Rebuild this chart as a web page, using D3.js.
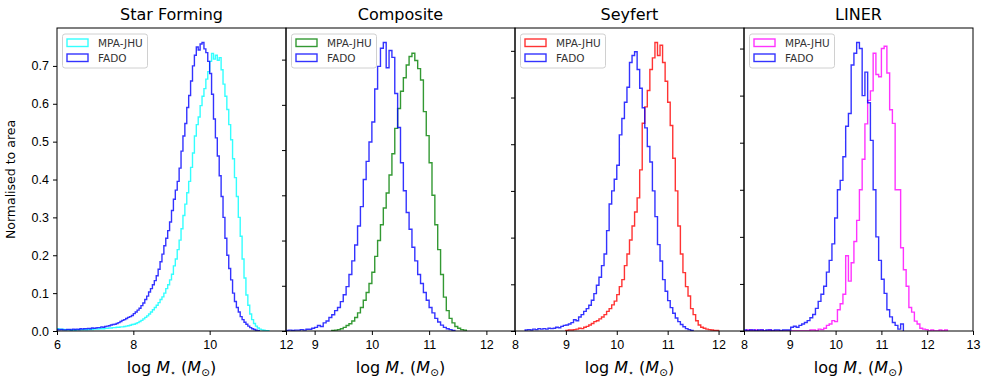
<!DOCTYPE html>
<html>
<head>
<meta charset="utf-8">
<script src="https://cdn.jsdelivr.net/npm/d3@7"></script>
<style>
  body { margin: 0; background: #fff; }
  svg { font-family: "DejaVu Sans", sans-serif; }
</style>
</head>
<body>
<div id="chart"></div>
<script>
// panel titles, legend names, axis ticks
var panelTitles = ["Star Forming", "Composite", "Seyfert", "LINER"];
var seriesNames = ["MPA-JHU", "FADO"];
var xDomains = [[6, 12], [8.5, 12.5], [8, 12.5], [8, 13]];
var xTickValues = [[6, 8, 10, 12], [9, 10, 11, 12], [8, 9, 10, 11, 12], [8, 9, 10, 11, 12, 13]];
var yTickValues = [0, 0.1, 0.2, 0.3, 0.4, 0.5, 0.6, 0.7];

// histogram bins: left edge of first bin, bin width per panel
var binWidths = [0.05, 0.05, 0.05, 0.06];
var mpaStarts = [6.0, 9.3, 9.0, 8.0];
var fadoStarts = [6.0, 8.5, 8.2, 8.0];

// Star Forming
var sfMpa = [
  0.006,0.005,0.005,0.004,0.003,0.003,0.003,0.002,0.003,0.002,0.003,0.003,0.003,0.003,0.004,0.003,0.004,0.004,0.004,0.005,
  0.005,0.005,0.006,0.006,0.006,0.007,0.007,0.008,0.008,0.009,0.009,0.010,0.010,0.011,0.011,0.012,0.013,0.014,0.015,0.017,
  0.018,0.020,0.022,0.025,0.028,0.032,0.036,0.040,0.045,0.050,0.056,0.062,0.068,0.075,0.083,0.090,0.100,0.112,0.122,0.135,
  0.150,0.172,0.190,0.215,0.240,0.270,0.305,0.335,0.365,0.395,0.432,0.470,0.515,0.545,0.565,0.595,0.620,0.640,0.665,0.685,
  0.712,0.733,0.718,0.728,0.715,0.722,0.690,0.652,0.620,0.585,0.545,0.505,0.455,0.405,0.355,0.300,0.250,0.190,0.140,0.095,
  0.068,0.045,0.030,0.020,0.013,0.008,0.005,0.003,0.002,0.001,0.001];
var sfFado = [
  0.004,0.003,0.004,0.003,0.003,0.004,0.004,0.003,0.005,0.004,0.005,0.004,0.006,0.005,0.006,0.006,0.007,0.006,0.008,0.007,
  0.008,0.009,0.009,0.011,0.010,0.012,0.013,0.014,0.016,0.017,0.018,0.020,0.022,0.025,0.028,0.030,0.033,0.036,0.038,0.041,
  0.046,0.050,0.055,0.060,0.067,0.074,0.083,0.092,0.103,0.112,0.122,0.133,0.146,0.163,0.183,0.203,0.225,0.245,0.265,0.288,
  0.318,0.348,0.372,0.395,0.430,0.475,0.515,0.548,0.590,0.622,0.660,0.700,0.728,0.750,0.742,0.758,0.762,0.745,0.735,0.712,
  0.680,0.625,0.560,0.510,0.462,0.410,0.355,0.300,0.245,0.200,0.165,0.135,0.100,0.078,0.062,0.050,0.038,0.030,0.023,0.018,
  0.013,0.009,0.006,0.004,0.002,0.001];

// Composite
var compMpa = [
  0.001,0.002,0.003,0.005,0.008,0.012,0.016,0.022,0.030,0.040,0.052,0.068,0.085,0.105,
  0.130,0.165,0.200,0.235,0.272,0.305,0.345,0.392,0.448,0.492,0.530,0.560,0.588,0.607,0.614,0.598,0.580,0.555,0.485,0.432,
  0.372,0.300,0.235,0.180,0.125,0.075,0.045,0.028,0.018,0.010,0.006,0.003,0.002];
var compFado = [
  0.001,0.002,0.001,0.002,0.002,0.003,0.002,0.004,0.004,0.006,
  0.008,0.012,0.010,0.018,0.022,0.030,0.036,0.045,0.052,0.065,0.080,0.098,0.125,0.155,0.190,0.232,0.275,0.335,0.375,0.418,
  0.462,0.535,0.585,0.625,0.638,0.582,0.620,0.605,0.525,0.450,0.372,0.310,0.262,0.225,0.185,0.155,0.125,0.105,0.085,0.068,
  0.052,0.040,0.028,0.020,0.013,0.008,0.005,0.003,0.001];

// Seyfert
var seyMpa = [
  0.001,0.002,0.002,0.003,0.004,0.006,0.005,0.008,0.010,0.013,0.016,0.020,0.022,0.026,0.030,0.035,0.042,0.048,0.056,0.064,
  0.078,0.095,0.110,0.140,0.165,0.195,0.225,0.255,0.285,0.345,0.445,0.480,0.515,0.560,0.585,0.618,0.590,0.612,0.575,0.535,
  0.490,0.440,0.370,0.300,0.225,0.165,0.125,0.095,0.075,0.048,0.035,0.022,0.013,0.008,0.006,0.004,0.003,0.002,0.001,0.001];
var seyFado = [
  0.002,0.003,0.002,0.004,0.003,0.005,0.004,0.005,0.004,0.006,0.005,0.006,0.008,0.007,0.010,0.012,
  0.013,0.015,0.018,0.024,0.022,0.030,0.035,0.042,0.048,0.055,0.066,0.080,0.098,0.115,0.140,0.165,0.215,0.272,0.300,0.325,
  0.355,0.420,0.455,0.490,0.522,0.575,0.590,0.598,0.560,0.520,0.478,0.435,0.395,0.362,0.300,0.245,0.185,0.150,0.110,0.085,
  0.065,0.050,0.038,0.028,0.020,0.014,0.009,0.005,0.003,0.001];

// LINER
var linerMpa = [
  0.000,0.002,0.002,0.000,0.002,0.000,0.002,0.000,0.000,0.002,0.000,0.000,0.000,0.000,0.000,0.000,0.000,0.000,0.000,0.000,
  0.000,0.000,0.000,0.000,0.002,0.002,0.000,0.004,0.003,0.006,0.012,0.015,0.022,0.020,0.045,0.058,0.078,0.160,0.106,0.145,
  0.190,0.235,0.300,0.365,0.440,0.490,0.510,0.590,0.545,0.540,0.600,0.605,0.548,0.470,0.441,0.300,0.300,0.177,0.130,0.095,
  0.050,0.040,0.021,0.015,0.006,0.004,0.003,0.000,0.002,0.000,0.000,0.002,0.000,0.002];
var linerFado = [
  0.002,0.000,0.002,0.002,0.000,0.002,0.002,0.000,0.002,0.002,0.000,0.002,0.002,0.000,0.002,0.002,0.002,0.008,0.010,0.008,
  0.012,0.015,0.018,0.022,0.028,0.035,0.048,0.063,0.078,0.095,0.125,0.150,0.185,0.240,0.300,0.320,0.370,0.435,0.462,0.565,
  0.590,0.613,0.600,0.500,0.550,0.485,0.405,0.300,0.200,0.150,0.110,0.080,0.045,0.030,0.018,0.012,0.004,0.015];

var mpaData = [sfMpa, compMpa, seyMpa, linerMpa];
var fadoData = [sfFado, compFado, seyFado, linerFado];
var mpaColors = ["#00ffff", "#008000", "#ff0000", "#ff00ff"];
var fadoColor = "#0000ff";

// set the dimensions and margins of the graph
var width = 983, height = 382;
var margin = {top: 28, left: 57};
var panelW = 229, panelH = 303;

var svg = d3.select("#chart")
  .append("svg")
    .attr("width", width)
    .attr("height", height);

// turn bin heights into a step outline
function stepPoints(start, binW, values) {
  var pts = [[start, 0]];
  values.forEach(function(v, k) {
    pts.push([start + k * binW, v]);
    pts.push([start + (k + 1) * binW, v]);
  });
  pts.push([start + values.length * binW, 0]);
  return pts;
}

panelTitles.forEach(function(title, i) {
  var g = svg.append("g")
    .attr("transform", "translate(" + (margin.left + i * panelW) + "," + margin.top + ")");

  var x = d3.scaleLinear().domain(xDomains[i]).range([0, panelW]);
  var ymax = 1.05 * d3.max(mpaData[i].concat(fadoData[i]));
  var y = d3.scaleLinear().domain([0, ymax]).range([panelH, 0]);

  var line = d3.line()
    .x(function(d) { return x(d[0]); })
    .y(function(d) { return y(d[1]); });

  g.append("clipPath").attr("id", "clip" + i)
    .append("rect").attr("width", panelW).attr("height", panelH);

  var series = [
    {pts: stepPoints(mpaStarts[i], binWidths[i], mpaData[i]), color: mpaColors[i]},
    {pts: stepPoints(fadoStarts[i], binWidths[i], fadoData[i]), color: fadoColor}
  ];

  g.append("g").attr("clip-path", "url(#clip" + i + ")")
    .selectAll("path")
    .data(series)
    .enter()
    .append("path")
      .attr("d", function(d) { return line(d.pts); })
      .attr("fill", "none")
      .attr("stroke", function(d) { return d.color; })
      .attr("stroke-opacity", 0.8)
      .attr("stroke-width", 1.4);

  // frame
  g.append("rect")
    .attr("width", panelW).attr("height", panelH)
    .attr("fill", "none").attr("stroke", "#000").attr("stroke-width", 1);

  // X axis
  var xAxis = g.append("g")
    .attr("transform", "translate(0," + panelH + ")")
    .call(d3.axisBottom(x).tickValues(xTickValues[i]).tickFormat(d3.format("d")).tickSize(4).tickPadding(5));
  xAxis.select(".domain").remove();
  xAxis.selectAll("text").style("font-size", "12.5px").attr("fill", "#000");

  // Y axis (labels only on the first panel)
  var yAxis = g.append("g")
    .call(d3.axisLeft(y)
      .tickValues(yTickValues.filter(function(t) { return t <= ymax; }))
      .tickFormat(i === 0 ? d3.format(".1f") : "")
      .tickSize(4).tickPadding(4));
  yAxis.select(".domain").remove();
  yAxis.selectAll("text").style("font-size", "12.5px").attr("fill", "#000");

  // title
  g.append("text")
    .attr("x", panelW / 2).attr("y", -8)
    .attr("text-anchor", "middle")
    .style("font-size", "16px")
    .text(title);

  // X axis label: log M* (Msun)
  var xl = g.append("text")
    .attr("x", panelW / 2).attr("y", panelH + 42)
    .attr("text-anchor", "middle")
    .style("font-size", "16px");
  xl.append("tspan").text("log ");
  xl.append("tspan").style("font-style", "italic").text("M");
  xl.append("tspan").attr("baseline-shift", "-25%").style("font-size", "9.5px").text("\u22c6");
  xl.append("tspan").text(" (");
  xl.append("tspan").style("font-style", "italic").text("M");
  xl.append("tspan").attr("baseline-shift", "-25%").style("font-size", "10.5px").text("\u2299");
  xl.append("tspan").text(")");

  // legend
  var lg = g.append("g").attr("transform", "translate(5.5,6)");
  lg.append("rect")
    .attr("width", 85).attr("height", 34).attr("rx", 2.5)
    .attr("fill", "#fff").attr("stroke", "#d0d0d0").attr("stroke-width", 1);
  [mpaColors[i], fadoColor].forEach(function(c, k) {
    lg.append("rect")
      .attr("x", 4.5).attr("y", 5 + k * 15)
      .attr("width", 21).attr("height", 7.5)
      .attr("fill", "none").attr("stroke", c).attr("stroke-opacity", 0.8).attr("stroke-width", 1.4);
    lg.append("text")
      .attr("x", 35.5).attr("y", 12.5 + k * 15)
      .style("font-size", "10.5px")
      .attr("fill", "#333")
      .text(seriesNames[k]);
  });
});

// Y axis label
svg.append("text")
  .attr("text-anchor", "middle")
  .attr("transform", "translate(15," + (margin.top + panelH / 2) + ") rotate(-90)")
  .style("font-size", "12.5px")
  .text("Normalised to area");
</script>
</body>
</html>
